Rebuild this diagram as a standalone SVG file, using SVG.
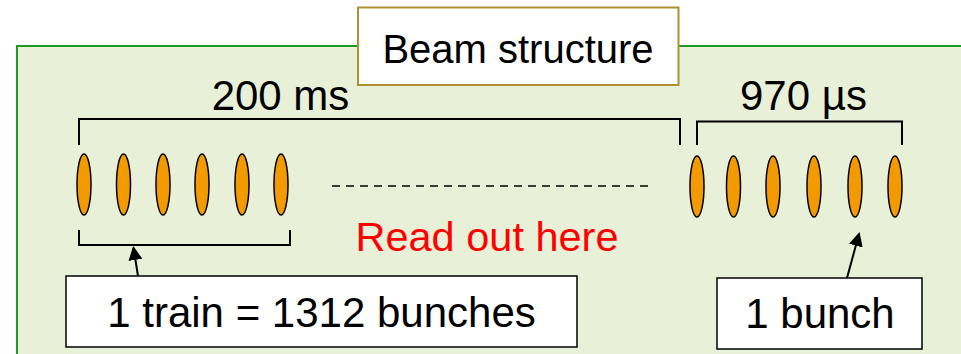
<svg xmlns="http://www.w3.org/2000/svg" width="961" height="354" viewBox="0 0 961 354">
<style>
.t{font-family:"Liberation Sans",Arial,sans-serif;fill:#000}
.b{fill:#f39a00;stroke:#000;stroke-width:1.5}
.ln{fill:none;stroke:#000;stroke-width:2}
.box{fill:#fff;stroke:#000;stroke-width:1.5}
</style>
<defs>
<marker id="ah" markerWidth="14" markerHeight="14" refX="12" refY="7" orient="auto" markerUnits="userSpaceOnUse" viewBox="0 0 14 14">
<path d="M0,0 L14,7 L0,14 z" fill="#000"/>
</marker>
</defs>
<rect x="0" y="0" width="961" height="354" fill="#fff"/>
<g id="panel">
<rect x="17" y="46" width="960" height="320" fill="#e8f0d8" stroke="#1e9a1e" stroke-width="2"/>
</g>
<g id="title">
<rect x="358" y="7.5" width="320.5" height="77.5" fill="#fff" stroke="#ae9132" stroke-width="2"/>
<text class="t" x="518" y="63" font-size="40" text-anchor="middle">Beam structure</text>
</g>
<g id="train-bunches">
<ellipse class="b" cx="84" cy="184.5" rx="7" ry="30.5"/>
<ellipse class="b" cx="123.5" cy="184.5" rx="7" ry="30.5"/>
<ellipse class="b" cx="163" cy="184.5" rx="7" ry="30.5"/>
<ellipse class="b" cx="202" cy="184.5" rx="7" ry="30.5"/>
<ellipse class="b" cx="242" cy="184.5" rx="7" ry="30.5"/>
<ellipse class="b" cx="281" cy="184.5" rx="7" ry="30.5"/>
</g>
<g id="right-bunches">
<ellipse class="b" cx="697" cy="186.5" rx="7" ry="30.5"/>
<ellipse class="b" cx="733.5" cy="186.5" rx="7" ry="30.5"/>
<ellipse class="b" cx="773" cy="186.5" rx="7" ry="30.5"/>
<ellipse class="b" cx="814" cy="186.5" rx="7" ry="30.5"/>
<ellipse class="b" cx="855" cy="186.5" rx="7" ry="30.5"/>
<ellipse class="b" cx="895" cy="186.5" rx="7" ry="30.5"/>
</g>
<g id="labels">
<text class="t" x="280.5" y="110" font-size="42" text-anchor="middle">200 ms</text>
<text class="t" x="803.5" y="110" font-size="42" text-anchor="middle">970 µs</text>
<text x="487" y="251" font-size="41.5" text-anchor="middle" font-family="'Liberation Sans',Arial,sans-serif" fill="#ff0000">Read out here</text>
</g>
<g id="train-box">
<rect class="box" x="66" y="276" width="511" height="71"/>
<text class="t" x="321.5" y="327" font-size="42" text-anchor="middle">1 train = 1312 bunches</text>
</g>
<g id="bunch-box">
<rect class="box" x="717" y="278" width="205" height="71"/>
<text class="t" x="820" y="328" font-size="42" text-anchor="middle">1 bunch</text>
</g>
<g id="connectors">
<path class="ln" d="M79,145 V119 H680 V145"/>
<path class="ln" d="M697,145 V121.5 H902 V145"/>
<path class="ln" d="M79,230 V245 H290 V230"/>
<line x1="332" y1="186" x2="648" y2="186" stroke="#000" stroke-width="1.5" stroke-dasharray="8,6"/>
<line class="ln" x1="138" y1="276" x2="133.5" y2="248" marker-end="url(#ah)"/>
<line class="ln" x1="847" y1="278" x2="859" y2="234" marker-end="url(#ah)"/>
</g>
</svg>
